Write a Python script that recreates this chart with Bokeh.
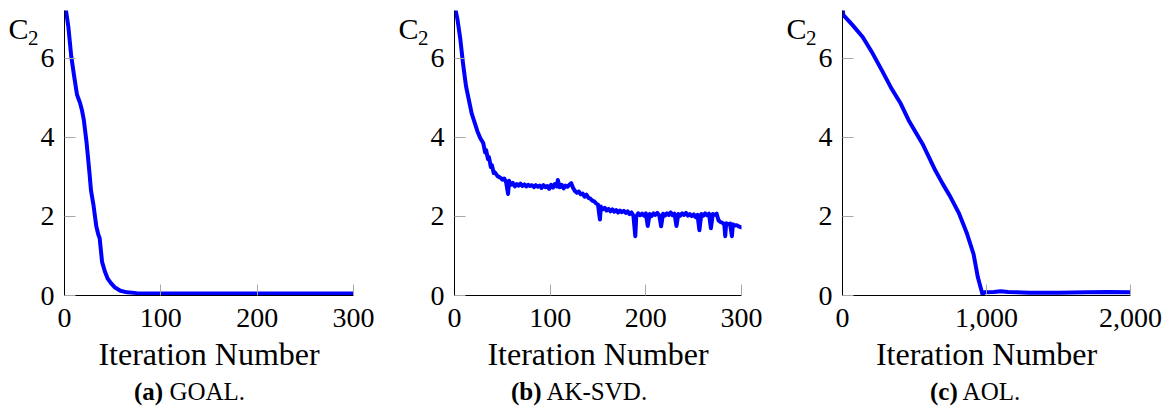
from bokeh.plotting import figure
from bokeh.models import Range1d, FixedTicker, NumeralTickFormatter, LinearAxis, Div
from bokeh.layouts import row, column
from bokeh.embed import file_html
from bokeh.resources import INLINE

# ---------------- data ----------------
goal_iter = [0, 1, 4, 7, 10, 13, 16, 18, 20, 23, 26, 27.5, 30, 33, 35, 36.5, 39, 42, 45, 48,
             52, 58, 65, 75, 90, 120, 150, 200, 250, 300]
goal_c2 = [7.35, 7.3, 6.8, 6.05, 5.55, 5.08, 4.88, 4.7, 4.45, 3.85, 3.08, 2.66, 2.3, 1.75, 1.55,
           1.45, 0.85, 0.6, 0.42, 0.32, 0.21, 0.12, 0.08, 0.06, 0.05, 0.05, 0.05, 0.05, 0.05, 0.05]

aksvd_iter = [0, 3, 6, 9, 12, 15, 18, 21, 24, 27, 30, 32, 33, 35, 36, 38, 39, 41, 42, 45,
              48, 50, 52, 54, 56, 57, 59, 61, 63, 65, 67, 69, 71, 73, 75, 77, 79, 81, 83, 85,
              87, 89, 91, 93, 95, 97, 99, 101, 103, 105, 107, 108, 110, 112, 114, 116, 118, 120, 122, 124,
              126, 128, 130, 132, 134, 136, 138, 140, 142, 144, 146, 148, 150, 152, 153, 155, 157, 159, 161, 163,
              165, 167, 169, 171, 173, 175, 177, 179, 181, 183, 185, 187, 189, 190, 192, 194, 196, 198, 200, 202,
              204, 206, 208, 210, 212, 214, 216, 218, 220, 222, 224, 226, 228, 230, 232, 234, 236, 238, 240, 242,
              244, 246, 248, 250, 252, 254, 256, 258, 260, 262, 264, 266, 268, 270, 272, 274, 276, 278, 280, 282,
              283, 284, 286, 288, 290, 291, 293, 295, 297, 300]
aksvd_c2 = [7.35, 7.0, 6.5, 5.85, 5.3, 4.95, 4.6, 4.38, 4.15, 3.98, 3.86, 3.62, 3.68, 3.45, 3.50, 3.25, 3.30, 3.10, 3.12, 3.02,
            2.98, 2.93, 2.96, 2.86, 2.57, 2.90, 2.80, 2.85, 2.76, 2.82, 2.78, 2.83, 2.77, 2.81, 2.76, 2.80, 2.77, 2.79, 2.74, 2.79,
            2.75, 2.78, 2.72, 2.79, 2.74, 2.77, 2.70, 2.80, 2.73, 2.82, 2.76, 2.92, 2.74, 2.80, 2.71, 2.78, 2.75, 2.80, 2.84, 2.72,
            2.64, 2.60, 2.63, 2.56, 2.58, 2.50, 2.55, 2.47, 2.45, 2.40, 2.38, 2.33, 2.30, 1.92, 2.25, 2.18, 2.22, 2.15, 2.19, 2.13,
            2.18, 2.12, 2.16, 2.10, 2.15, 2.11, 2.14, 2.09, 2.13, 2.06, 2.10, 2.02, 1.50, 2.00, 2.08, 2.03, 2.07, 2.02, 2.08, 1.76,
            2.06, 2.01, 2.08, 2.04, 2.09, 2.03, 1.75, 2.07, 2.02, 2.08, 2.04, 2.10, 2.03, 2.07, 1.76, 2.06, 2.02, 2.08, 2.04, 2.09,
            2.02, 2.06, 2.01, 2.05, 1.98, 2.04, 1.65, 2.06, 2.02, 2.08, 2.03, 2.07, 1.70, 2.06, 2.04, 2.07, 1.90, 1.86, 1.84, 1.80,
            1.50, 1.83, 1.80, 1.82, 1.50, 1.80, 1.77, 1.78, 1.75, 1.72]

aol_iter = [0, 5, 70, 140, 210, 280, 335, 405, 460, 555, 645, 695, 750, 810, 865, 910, 940, 972,
            985, 1050, 1100, 1150, 1300, 1500, 1700, 1850, 2000]
aol_c2 = [7.35, 7.1, 6.84, 6.54, 6.12, 5.65, 5.27, 4.85, 4.43, 3.84, 3.16, 2.83, 2.49, 2.07, 1.56, 1.05, 0.46, 0.03,
          0.08, 0.09, 0.11, 0.09, 0.07, 0.07, 0.08, 0.09, 0.08]

goal_ticks = [0, 100, 200, 300]
aksvd_ticks = [0, 100, 200, 300]
aol_ticks = [0, 1000, 2000]
y_ticks = [0, 2, 4, 6]

x_label = "Iteration Number"
y_label_main = "C"
y_label_sub = "2"
captions = [("(a)", "GOAL."), ("(b)", "AK-SVD."), ("(c)", "AOL.")]

SERIF = "Liberation Serif"
BLUE = "#0000ff"
TICK_GREY = "#a8a8a8"


def label_axis(text, value, size, standoff):
    ax = LinearAxis(ticker=FixedTicker(ticks=[value]), major_label_overrides={value: text})
    ax.axis_line_color = None
    ax.major_tick_line_color = None
    ax.minor_tick_line_color = None
    ax.major_tick_in = 0
    ax.major_tick_out = 0
    ax.major_label_standoff = standoff
    ax.major_label_text_font = SERIF
    ax.major_label_text_font_size = size
    ax.major_label_text_color = "black"
    return ax


def make_panel(xs, ys, xmax, xticks, caption, fw, left, right, cap_off, comma=False):
    p = figure(frame_width=fw, frame_height=285, x_range=Range1d(0, xmax), y_range=Range1d(0, 7.21),
               output_backend="svg", toolbar_location=None,
               min_border_left=left, min_border_right=right, min_border_top=10, min_border_bottom=84)
    p.outline_line_color = None
    p.xgrid.visible = False
    p.ygrid.visible = False
    p.background_fill_color = "white"
    p.border_fill_color = "white"

    p.line(xs, ys, line_color=BLUE, line_width=4, line_join="round", line_cap="round")

    xa = p.xaxis[0]
    xa.ticker = FixedTicker(ticks=xticks)
    if comma:
        xa.formatter = NumeralTickFormatter(format="0,0")
    ya = p.yaxis[0]
    ya.ticker = FixedTicker(ticks=y_ticks)
    for ax in (xa, ya):
        ax.axis_line_color = "black"
        ax.axis_line_width = 1
        ax.major_tick_in = 11
        ax.major_tick_out = 0
        ax.major_tick_line_color = TICK_GREY
        ax.major_tick_line_width = 1
        ax.minor_tick_line_color = None
        ax.major_label_text_font = SERIF
        ax.major_label_text_font_size = "28px"
        ax.major_label_text_color = "black"
    xa.major_label_standoff = 13
    ya.major_label_standoff = 10
    xa.axis_label = x_label
    xa.axis_label_text_font = SERIF
    xa.axis_label_text_font_size = "32px"
    xa.axis_label_text_font_style = "normal"
    xa.axis_label_text_color = "black"
    xa.axis_label_standoff = 6

    # y label "C" with subscript "2", placed at the top-left like the reference
    p.add_layout(label_axis(y_label_sub, 6.51, "21px", -1), "left")
    p.add_layout(label_axis(y_label_main, 6.75, "30px", -4), "left")

    tag, name = caption
    html = ('<span style="display:inline-block; margin-left:%dpx; font-family:\'Liberation Serif\'; '
            'font-size:25px; line-height:25px; color:black; white-space:nowrap;">'
            '<b>%s</b> %s</span>') % (cap_off, tag, name)
    cap = Div(text=html, width=fw + left + right, height=26, margin=(0, 0, 0, 0))
    return column(p, cap, spacing=0)


c1 = make_panel(goal_iter, goal_c2, 300, goal_ticks, captions[0], 289, 64, 42, 134)
c2 = make_panel(aksvd_iter, aksvd_c2, 300, aksvd_ticks, captions[1], 287, 56, 42, 116)
c3 = make_panel(aol_iter, aol_c2, 2000, aol_ticks, captions[2], 288, 57, 43, 147, comma=True)

layout = row(c1, c2, c3, spacing=0)
open("out.html", "w").write(file_html(layout, INLINE))
